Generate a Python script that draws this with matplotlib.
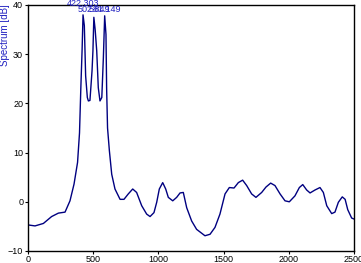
import numpy as np
import matplotlib
matplotlib.use("Agg")
import matplotlib.pyplot as plt

# spectrum (frequency, dB)
freq = [0, 54, 118, 181, 233, 284, 322, 353, 380, 395, 405, 415, 422,
        432, 442, 455, 463, 475, 491, 498, 505, 515, 527, 539, 552, 566,
        578, 588, 598, 603, 610, 624, 642, 667, 706, 736, 769, 803, 833,
        872, 910, 936, 966, 987, 1007, 1033, 1056, 1076, 1110, 1140, 1166,
        1191, 1217, 1255, 1293, 1357, 1396, 1434, 1472, 1511, 1544, 1580,
        1613, 1646, 1677, 1715, 1748, 1792, 1825, 1861, 1894, 1933, 1971,
        2004, 2047, 2081, 2107, 2137, 2163, 2201, 2239, 2265, 2291, 2329,
        2354, 2380, 2410, 2432, 2452, 2482, 2500]
spec = [-4.7, -4.9, -4.4, -3.0, -2.3, -2.1, 0.2, 3.6, 8.0, 14.0, 23.0, 31.0, 38.0,
        35.8, 25.6, 21.2, 20.5, 20.6, 26.6, 30.7, 37.5, 35.0, 30.7, 23.2, 20.5, 21.2,
        29.3, 37.8, 34.0, 23.0, 15.0, 10.4, 5.6, 2.6, 0.5, 0.5, 1.6, 2.6, 1.9,
        -0.8, -2.5, -3.0, -2.2, -0.1, 2.6, 3.9, 2.6, 0.9, 0.2, 0.9, 1.8,
        1.9, -1.2, -3.9, -5.6, -6.9, -6.6, -5.2, -2.5, 1.6, 2.9, 2.8,
        3.9, 4.4, 3.3, 1.6, 0.9, 1.9, 3.0, 3.8, 3.3, 1.6, 0.2,
        0.0, 1.2, 2.9, 3.5, 2.4, 1.8, 2.4, 2.9, 1.9, -0.8, -2.4,
        -2.1, -0.1, 1.0, 0.5, -1.6, -3.3, -3.5]

peak_x = [422, 505, 588]
peak_y = [38.0, 37.5, 37.8]
peak_labels = ["422.303", "502.849", "581.149"]
peak_label_y = [39.4, 38.2, 38.2]

xticks = [0, 500, 1000, 1500, 2000, 2500]
yticks = [-10, 0, 10, 20, 30, 40]

plt.rcParams['font.family'] = ['Liberation Sans', 'DejaVu Sans']

fig = plt.figure(figsize=(3.61, 2.63), dpi=100)
ax = fig.add_axes([28/361, 1-251/263, (354-28)/361, (251-5)/263])
ax.plot(freq, spec, color='#000080', lw=1.0)

for px, lab, ly in zip(peak_x, peak_labels, peak_label_y):
	ax.text(px, ly, lab, color='#2020c0', fontsize=6.5, ha='center', va='bottom', clip_on=False)

ax.set_xlim(0, 2500)
ax.set_ylim(-10, 40)
ax.set_xticks(xticks)
ax.set_yticks(yticks)
ax.tick_params(labelsize=6.5, length=2.5, width=0.8, pad=1.0, direction='out')
ax.tick_params(axis='x', pad=0.5)
for s in ax.spines.values():
	s.set_linewidth(1.0)
ax.set_ylabel("Spectrum [dB]", color='#2020c0', fontsize=7, loc='top')
ax.yaxis.set_label_coords(-0.054, 1.005)

fig.savefig("out.png", dpi=100)
